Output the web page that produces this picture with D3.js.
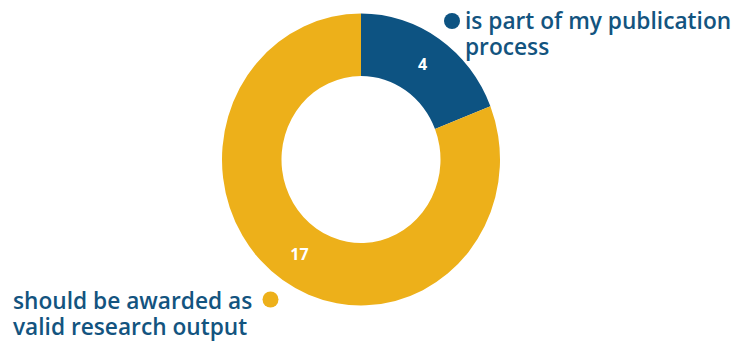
<!DOCTYPE html>
<html>
<head>
<meta charset="utf-8">
<script src="https://cdn.jsdelivr.net/npm/d3@7"></script>
<style>
  html, body { margin: 0; padding: 0; background: #fff; }
  svg { display: block; }
  text { font-family: "Open Sans", "Lato", sans-serif; }
</style>
</head>
<body>
<svg id="chart" width="736" height="345"></svg>
<script>
// Survey answers: how preprints relate to the respondent's work
const categories = ["is part of my publication process", "should be awarded as valid research output"];
const values = [4, 17];
const colors = ["#0d5382", "#edb01a"];
const legendLines = [
  ["is part of my publication", "process"],
  ["should be awarded as", "valid research output"]
];

const svg = d3.select("#chart");
const cx = 361, cy = 159.5;
const outerR = 139, innerR = 79.5;
const yStretch = 1.05;

const pie = d3.pie().sort(null).value(d => d);
const arcs = pie(values);
const arc = d3.arc().innerRadius(innerR).outerRadius(outerR);
const labelArc = d3.arc().innerRadius((innerR + outerR) / 2).outerRadius((innerR + outerR) / 2);

const ring = svg.append("g")
  .attr("transform", `translate(${cx},${cy}) scale(1,${yStretch})`);

ring.selectAll("path.slice")
  .data(arcs)
  .join("path")
  .attr("class", "slice")
  .attr("d", arc)
  .attr("fill", (d, i) => colors[i]);

// value labels at the middle of each ring segment
svg.selectAll("text.value")
  .data(arcs)
  .join("text")
  .attr("class", "value")
  .attr("x", d => cx + labelArc.centroid(d)[0])
  .attr("y", d => cy + labelArc.centroid(d)[1] * yStretch)
  .attr("dy", "0.35em")
  .attr("text-anchor", "middle")
  .attr("fill", "#fff")
  .attr("font-weight", 700)
  .attr("font-size", 16)
  .text(d => d.data);

// legend: top-right for the first series, bottom-left for the second
const legendText = "#13547f";
const legendSize = 22.7;
const legendTop = svg.append("g");
legendTop.append("circle").attr("cx", 452).attr("cy", 21).attr("r", 8).attr("fill", colors[0]);
legendTop.append("text")
  .attr("x", 465).attr("y", 29)
  .attr("font-size", legendSize).attr("font-weight", 600).attr("fill", legendText)
  .selectAll("tspan").data(legendLines[0]).join("tspan")
  .attr("x", 465).attr("dy", (d, i) => i === 0 ? 0 : 26)
  .text(d => d);

const legendBottom = svg.append("g");
legendBottom.append("circle").attr("cx", 270.5).attr("cy", 299.5).attr("r", 8).attr("fill", colors[1]);
legendBottom.append("text")
  .attr("x", 13).attr("y", 309)
  .attr("font-size", legendSize).attr("font-weight", 600).attr("fill", legendText)
  .selectAll("tspan").data(legendLines[1]).join("tspan")
  .attr("x", 13).attr("dy", (d, i) => i === 0 ? 0 : 26)
  .text(d => d);
</script>
</body>
</html>
